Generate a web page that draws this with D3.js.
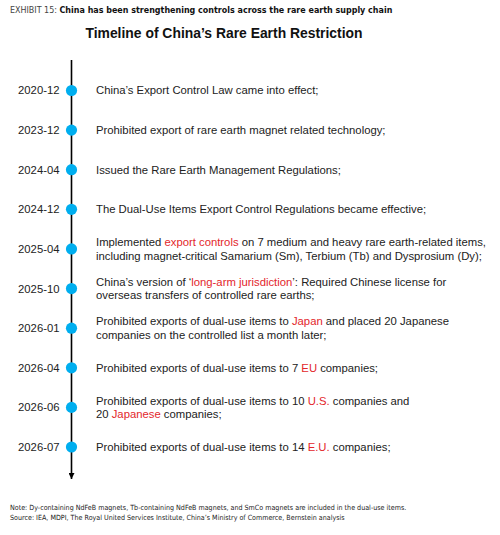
<!DOCTYPE html>
<html>
<head>
<meta charset="utf-8">
<script src="https://cdn.jsdelivr.net/npm/d3@7"></script>
<style>
  body { margin: 0; background: #fff; }
  svg { display: block; }
</style>
</head>
<body>
<script>
// timeline data
let dates = ['2020-12', '2023-12', '2024-04', '2024-12', '2025-04',
             '2025-10', '2026-01', '2026-04', '2026-06', '2026-07'];

// [brackets] mark the red words
let events = [
  ['China\u2019s Export Control Law came into effect;'],
  ['Prohibited export of rare earth magnet related technology;'],
  ['Issued the Rare Earth Management Regulations;'],
  ['The Dual-Use Items Export Control Regulations became effective;'],
  ['Implemented [export controls] on 7 medium and heavy rare earth-related items,',
   'including magnet-critical Samarium (Sm), Terbium (Tb) and Dysprosium (Dy);'],
  ['China\u2019s version of \u2018[long-arm jurisdiction]\u2019: Required Chinese license for',
   'overseas transfers of controlled rare earths;'],
  ['Prohibited exports of dual-use items to [Japan] and placed 20 Japanese',
   'companies on the controlled list a month later;'],
  ['Prohibited exports of dual-use items to 7 [EU] companies;'],
  ['Prohibited exports of dual-use items to 10 [U.S.] companies and',
   '20 [Japanese] companies;'],
  ['Prohibited exports of dual-use items to 14 [E.U.] companies;']
];

let notes = [
  'Note: Dy-containing NdFeB magnets, Tb-containing NdFeB magnets, and SmCo magnets are included in the dual-use items.',
  'Source: IEA, MDPI, The Royal United Services Institute, China\u2019s Ministry of Commerce, Bernstein analysis'
];

let width = 500,
    height = 535;

let axisX = 71.5,
    lineTop = 60,
    lineBottom = 479,
    textX = 96,
    lineH = 13.5;

let blue = '#00AEEF',
    red = '#E3262B',
    ink = '#222';

let svg = d3.select('body')
            .append('svg')
            .attr('width', width)
            .attr('height', height)
            .style('font-family', 'Liberation Sans, Arial, sans-serif');

// header
let head = svg.append('text')
              .attr('x', 10)
              .attr('y', 12.5)
              .style('font-family', 'DejaVu Sans Condensed, sans-serif')
              .style('font-size', '8.9px')
              .attr('fill', '#222');
head.append('tspan').text('EXHIBIT 15: ').attr('fill', '#444');
head.append('tspan').text('China has been strengthening controls across the rare earth supply chain')
    .attr('font-weight', 'bold').attr('fill', '#111');

svg.append('text')
   .text('Timeline of China\u2019s Rare Earth Restriction')
   .attr('x', 224)
   .attr('y', 38)
   .attr('text-anchor', 'middle')
   .attr('font-weight', 'bold')
   .style('font-size', '13.9px')
   .attr('fill', '#111');

let yscale = d3.scalePoint()
               .domain(dates)
               .range([90.5, 447]);

// vertical line with arrow
svg.append('defs').append('marker')
   .attr('id', 'arrow')
   .attr('viewBox', '0 0 10 10')
   .attr('refX', 10).attr('refY', 5)
   .attr('markerWidth', 6).attr('markerHeight', 6)
   .attr('markerUnits', 'userSpaceOnUse')
   .attr('orient', 'auto')
   .append('path')
   .attr('d', 'M0,0L10,5L0,10Z')
   .attr('fill', '#000');

svg.append('line')
   .attr('x1', axisX).attr('x2', axisX)
   .attr('y1', lineTop).attr('y2', lineBottom)
   .attr('stroke', '#000')
   .attr('stroke-width', 1.6)
   .attr('marker-end', 'url(#arrow)');

let rows = svg.append('g')
              .selectAll('g')
              .data(dates.map((d, i) => ({ date: d, lines: events[i] })))
              .join('g')
              .attr('transform', d => `translate(0,${yscale(d.date)})`);

rows.append('text')
    .text(d => d.date)
    .attr('x', 59.5)
    .attr('dy', '0.35em')
    .attr('text-anchor', 'end')
    .style('font-size', '11.3px')
    .attr('fill', ink);

rows.append('circle')
    .attr('cx', axisX)
    .attr('r', 5.6)
    .attr('fill', blue);

rows.each(function(d) {
  let g = d3.select(this);
  let n = d.lines.length;
  d.lines.forEach((ln, i) => {
    let t = g.append('text')
             .attr('x', textX)
             .attr('y', (i - (n - 1) / 2) * lineH)
             .attr('dy', '0.35em')
             .style('font-size', '11.3px')
             .attr('fill', ink);
    ln.split(/(\[[^\]]*\])/).filter(s => s.length).forEach(part => {
      let hot = part[0] === '[';
      t.append('tspan')
       .text(hot ? part.slice(1, -1) : part)
       .attr('fill', hot ? red : ink);
    });
  });
});

// footnotes
svg.append('g')
   .selectAll('text')
   .data(notes)
   .join('text')
   .text(d => d)
   .attr('x', 10)
   .attr('y', (d, i) => 509.5 + i * 10.5)
   .style('font-family', 'DejaVu Sans Condensed, sans-serif')
   .style('font-size', '7.1px')
   .attr('fill', '#222');
</script>
</body>
</html>
